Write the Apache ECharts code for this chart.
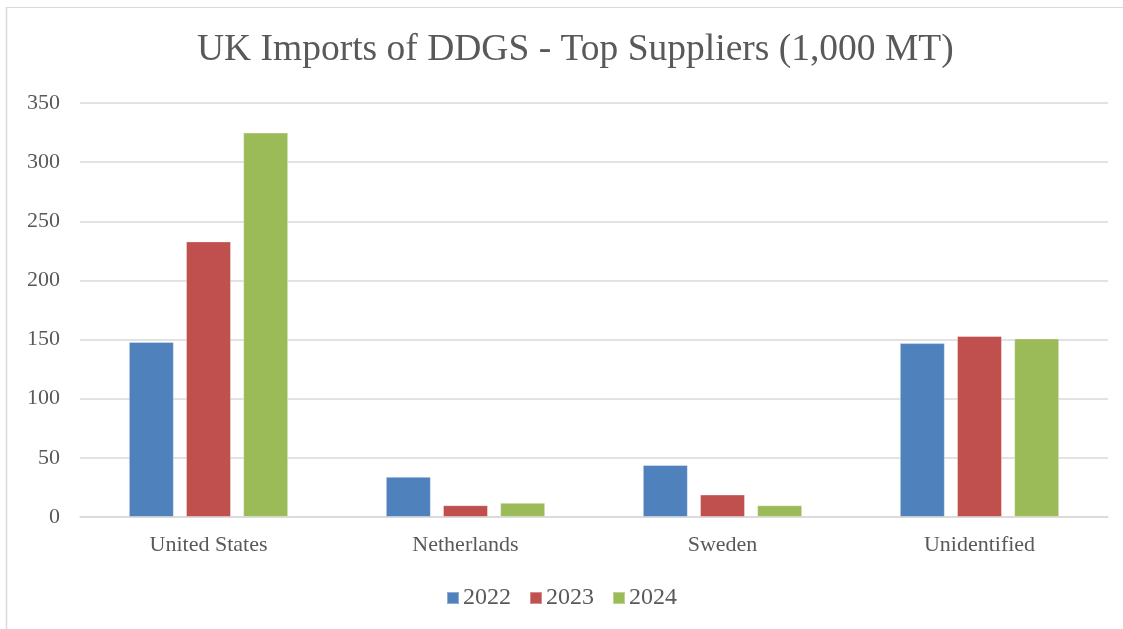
<!DOCTYPE html>
<html>
<head>
<meta charset="utf-8">
<script src="https://cdn.jsdelivr.net/npm/echarts@6/dist/echarts.min.js"></script>
<style>
html,body{margin:0;padding:0;background:#fff;}
#chart{width:1123px;height:629px;}
</style>
</head>
<body>
<div id="chart"></div>
<script>
const categories = ["United States", "Netherlands", "Sweden", "Unidentified"];
const years = ["2022", "2023", "2024"];
const values2022 = [148, 34, 44, 147];
const values2023 = [233, 10, 19, 153];
const values2024 = [325, 12, 10, 151];
const yTicks = [0, 50, 100, 150, 200, 250, 300, 350];
const colors = ["#4F81BD", "#C0504D", "#9BBB59"];

const FONT = "'Liberation Serif', 'Times New Roman', serif";
const chart = echarts.init(document.getElementById('chart'));
const seriesData = [values2022, values2023, values2024];
chart.setOption({
  animation: false,
  color: colors,
  title: {
    text: "UK Imports of DDGS - Top Suppliers (1,000 MT)",
    left: 192,
    top: 26,
    textStyle: {fontFamily: FONT, fontSize: 37.5, fontWeight: 'normal', color: '#595959'}
  },
  graphic: [
    {type: 'line', shape: {x1: 6.5, y1: 7, x2: 6.5, y2: 629}, style: {stroke: '#D9D9D9', lineWidth: 1.5}},
    {type: 'line', shape: {x1: 6, y1: 7.5, x2: 1123, y2: 7.5}, style: {stroke: '#D9D9D9', lineWidth: 1}}
  ],
  legend: {
    bottom: 14,
    left: 'center',
    itemWidth: 12,
    itemHeight: 12,
    itemGap: 18,
    icon: 'rect',
    textStyle: {fontFamily: FONT, fontSize: 24, color: '#595959', padding: [0,0,0,-1]},
    data: years
  },
  grid: {left: 80, right: 15, top: 103, bottom: 112},
  xAxis: {
    type: 'category',
    data: categories,
    axisLine: {lineStyle: {color: '#D9D9D9', width: 1.5}},
    axisTick: {show: false},
    axisLabel: {fontFamily: FONT, fontSize: 22, color: '#595959', margin: 17}
  },
  yAxis: {
    type: 'value',
    min: yTicks[0],
    max: yTicks[yTicks.length - 1],
    interval: 50,
    axisLine: {show: false},
    axisTick: {show: false},
    splitLine: {lineStyle: {color: '#D9D9D9', width: 1.5}},
    axisLabel: {fontFamily: FONT, fontSize: 22, color: '#595959', margin: 20}
  },
  series: years.map((y, i) => ({
    name: y,
    type: 'bar',
    data: seriesData[i],
    barGap: '27%',
    barCategoryGap: '38%',
    itemStyle: {borderColor: 'rgba(255,255,255,0.35)', borderWidth: 1}
  }))
});
</script>
</body>
</html>
